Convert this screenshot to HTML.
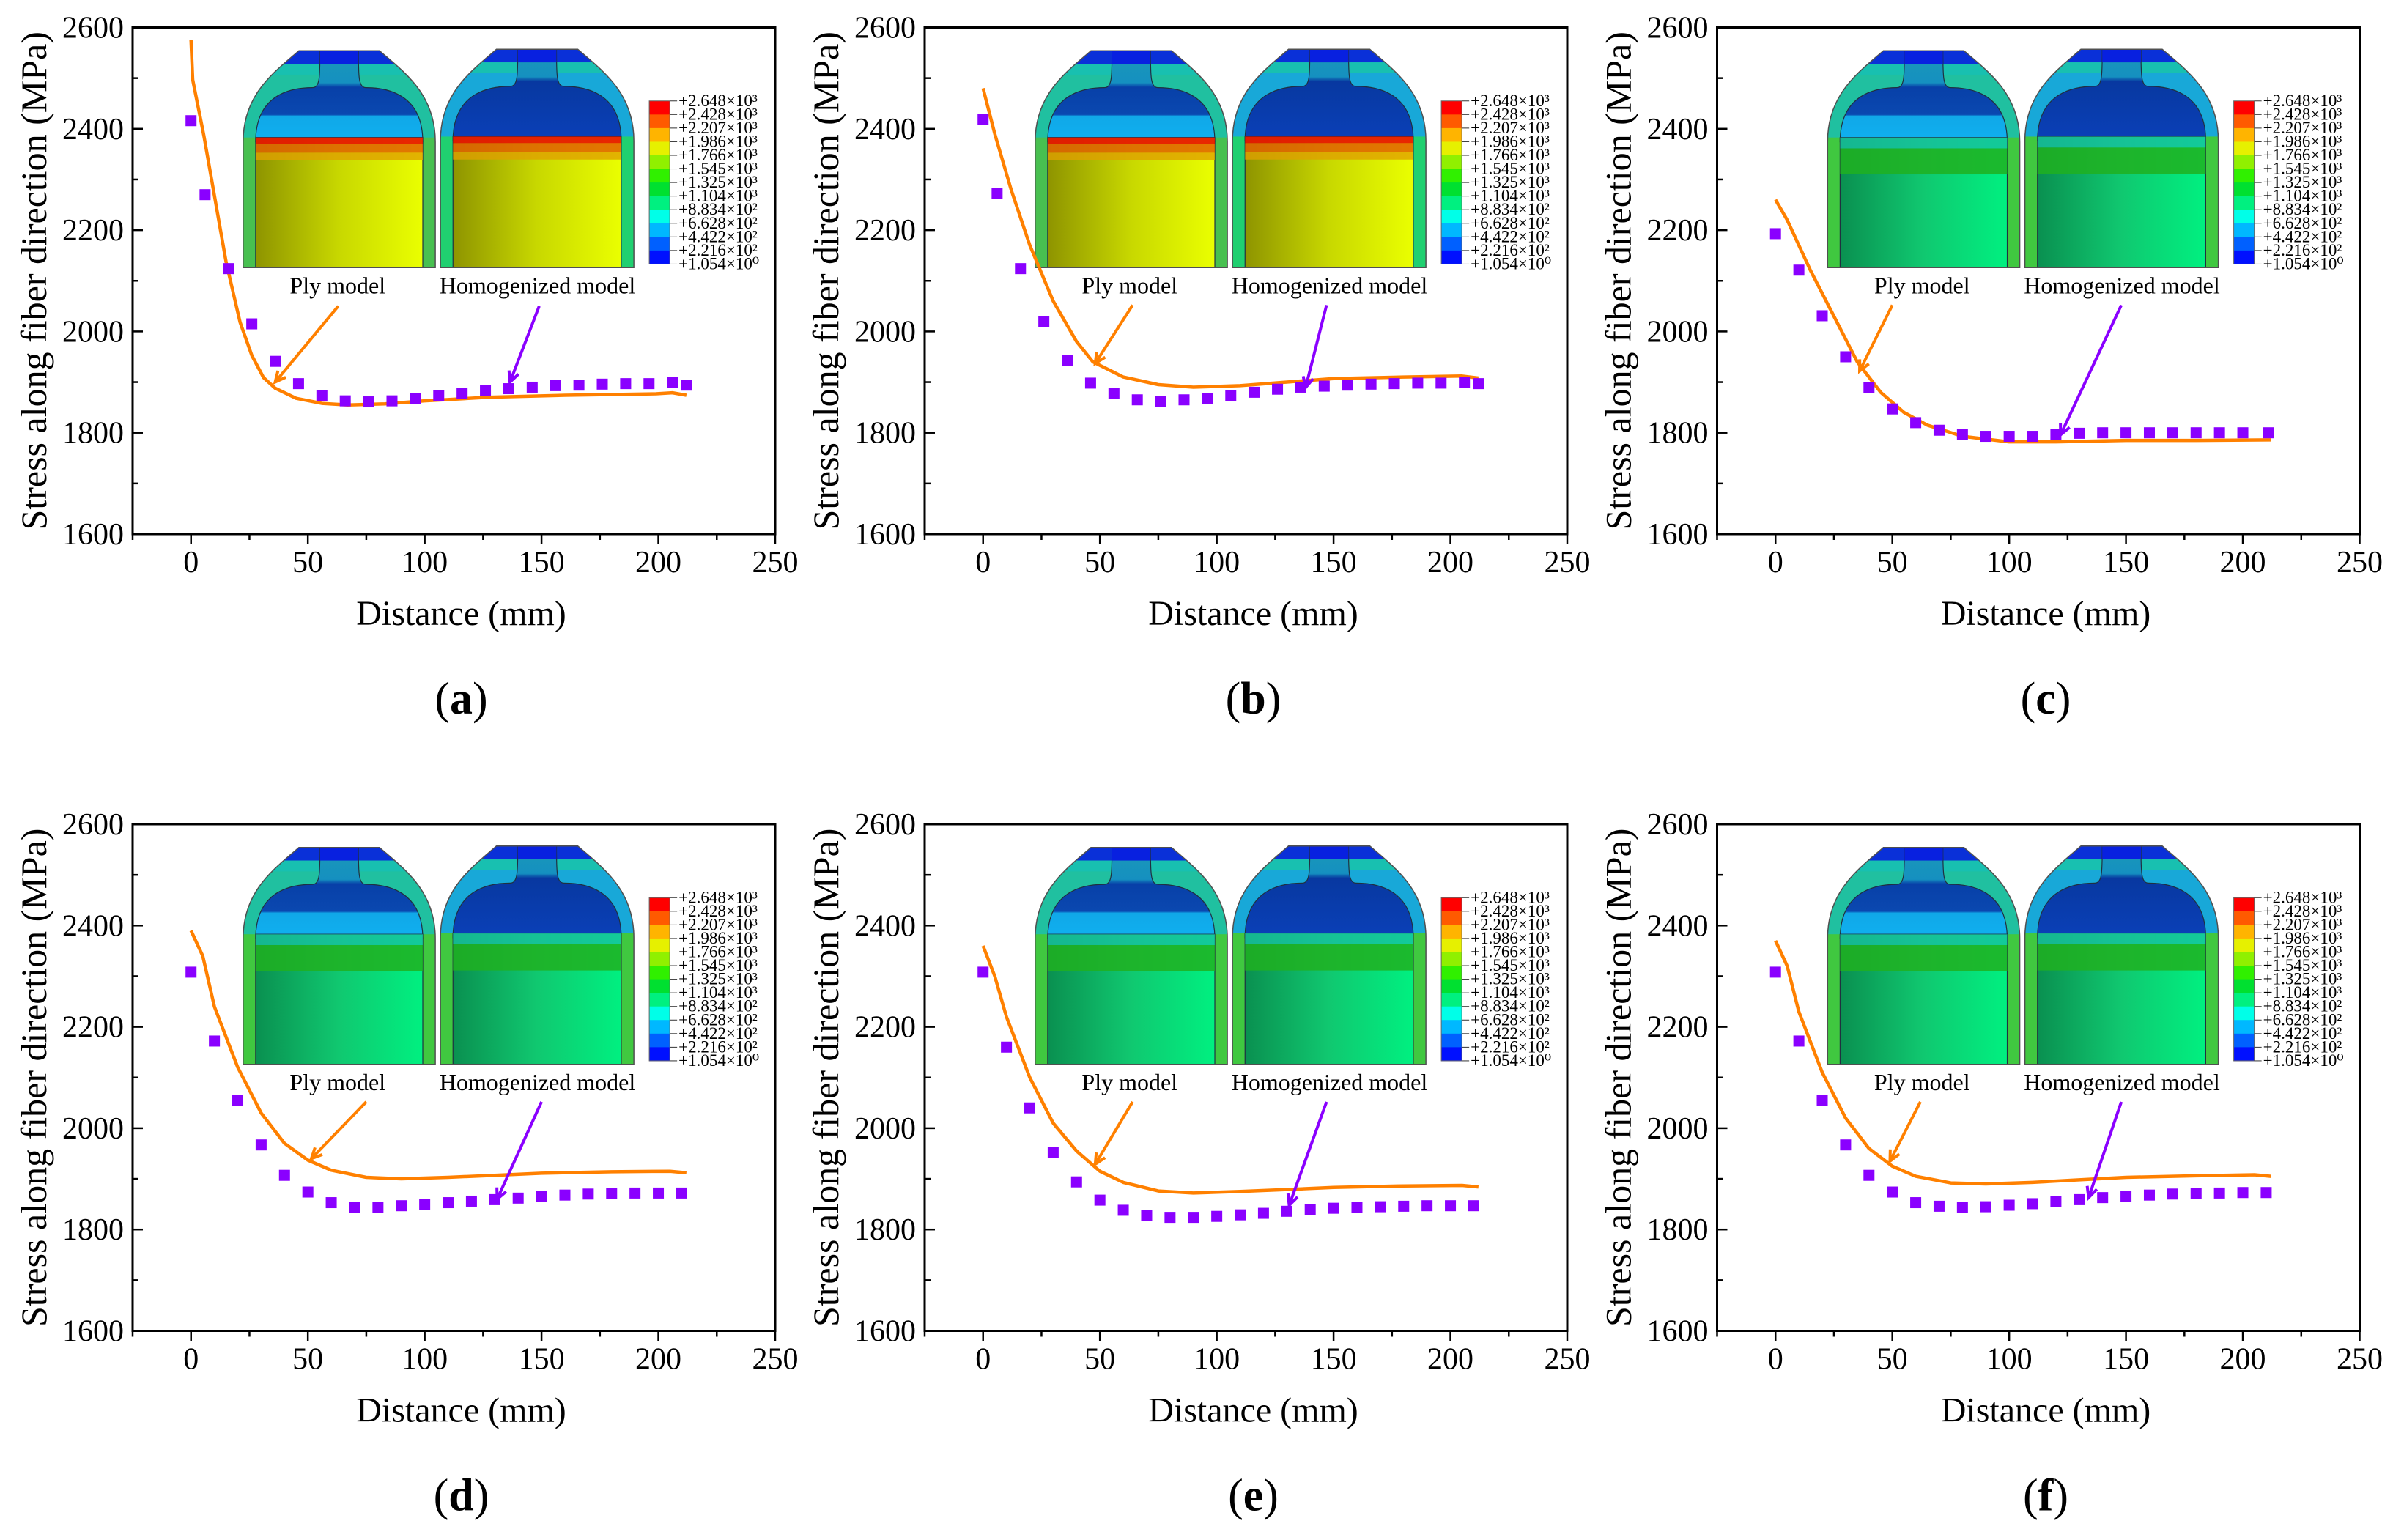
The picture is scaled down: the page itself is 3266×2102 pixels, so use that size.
<!DOCTYPE html>
<html><head><meta charset="utf-8">
<style>
html,body{margin:0;padding:0;background:#fff;}
svg, svg text{font-family:"Liberation Serif","Times New Roman","DejaVu Serif",serif;}
</style></head>
<body>
<svg id="fig" width="3266" height="2097" viewBox="0 0 3266 2097" xmlns="http://www.w3.org/2000/svg" font-family="Liberation Serif, serif">
<defs>
<linearGradient id="bodyYellow" x1="0" x2="1" y1="0" y2="0"><stop offset="0" stop-color="#8e9400"/><stop offset="0.5" stop-color="#c8d800"/><stop offset="1" stop-color="#eaff00"/></linearGradient>
<linearGradient id="bodyGreen" x1="0" x2="1" y1="0" y2="0"><stop offset="0" stop-color="#0a9050"/><stop offset="0.5" stop-color="#10c870"/><stop offset="1" stop-color="#00f080"/></linearGradient>
<linearGradient id="domePly" x1="0" x2="0" y1="0" y2="1"><stop offset="0" stop-color="#1a98b8"/><stop offset="0.35" stop-color="#1590c0"/><stop offset="0.4" stop-color="#0840a8"/><stop offset="0.7" stop-color="#0a48b0"/><stop offset="0.72" stop-color="#10a8e8"/><stop offset="1" stop-color="#10b0f0"/></linearGradient>
<linearGradient id="domeHom" x1="0" x2="0" y1="0" y2="1"><stop offset="0" stop-color="#1a98b8"/><stop offset="0.3" stop-color="#1590c0"/><stop offset="0.35" stop-color="#0838a0"/><stop offset="1" stop-color="#0a40b8"/></linearGradient>
</defs>
</svg>
<script>
// ---------------- data ----------------
const xTicks = [0, 50, 100, 150, 200, 250];
const yTicks = [1600, 1800, 2000, 2200, 2400, 2600];
const cbLabels = ["+2.648×10³","+2.428×10³","+2.207×10³","+1.986×10³","+1.766×10³","+1.545×10³","+1.325×10³","+1.104×10³","+8.834×10²","+6.628×10²","+4.422×10²","+2.216×10²","+1.054×10⁰"];
const cbColors = ["#ff0000","#ff5a00","#ffb400","#e6f000","#90f000","#30f000","#00e030","#00f080","#00ffe8","#00b8ff","#0060ff","#0010ff"];

const sqXA = [0,6,16,26,36,46,56,66,76,86,96,106,116,126,136,146,156,166,176,186,196,206,212];
const sqYA = [2416,2270,2124,2015,1941,1897,1873,1863,1861,1863,1867,1873,1878,1883,1887,1890,1893,1894,1896,1897,1897,1899,1894];
const lnXA = [0,0.7,5.5,15,21,26,31,36,45,56,67,83,100,127,160,199,206,212];
const lnYA = [2575,2497,2386,2137,2018,1953,1909,1888,1868,1858,1855,1857,1863,1870,1874,1877,1879,1874];

const sqXB = [0,6,16,26,36,46,56,66,76,86,96,106,116,126,136,146,156,166,176,186,196,206,212];
const sqYB = [2419,2272,2124,2019,1943,1898,1877,1865,1862,1865,1868,1874,1880,1886,1890,1892,1894,1896,1897,1898,1898,1900,1897];
const lnXB = [0,5,12,20,30,40,47,60,75,90,110,130,150,180,205,212];
const lnYB = [2480,2390,2280,2170,2060,1980,1940,1910,1895,1890,1893,1900,1907,1910,1912,1908];

const sqXC = [0,10,20,30,40,50,60,70,80,90,100,110,120,130,140,150,160,170,180,190,200,211];
const sqYC = [2193,2121,2031,1950,1889,1847,1820,1805,1796,1793,1793,1793,1796,1799,1800,1800,1800,1800,1800,1800,1800,1800];
const lnXC = [0,5,15,25,35,45,55,65,80,100,120,150,180,212];
const lnYC = [2260,2220,2120,2030,1940,1880,1840,1815,1793,1782,1782,1785,1785,1786];

const sqXD = [0,10,20,30,40,50,60,70,80,90,100,110,120,130,140,150,160,170,180,190,200,210];
const sqYD = [2308,2172,2055,1967,1907,1874,1853,1844,1844,1847,1850,1853,1856,1859,1862,1865,1868,1870,1871,1872,1872,1872];
const lnXD = [0,5,10,20,30,40,50,60,75,90,110,130,150,180,205,212];
const lnYD = [2390,2340,2240,2120,2030,1970,1937,1917,1903,1900,1903,1907,1911,1914,1915,1912];

const sqXE = [0,10,20,30,40,50,60,70,80,90,100,110,120,130,140,150,160,170,180,190,200,210];
const sqYE = [2308,2160,2040,1952,1894,1858,1838,1828,1824,1824,1826,1829,1832,1836,1840,1842,1844,1845,1846,1847,1847,1847];
const lnXE = [0,5,10,20,30,40,50,60,75,90,110,130,150,180,205,212];
const lnYE = [2360,2300,2220,2100,2010,1955,1915,1893,1876,1872,1875,1879,1883,1886,1887,1884];

const sqXF = [0,10,20,30,40,50,60,70,80,90,100,110,120,130,140,150,160,170,180,190,200,210];
const sqYF = [2308,2172,2055,1967,1907,1874,1853,1846,1844,1845,1848,1851,1855,1859,1863,1866,1868,1870,1871,1872,1873,1873];
const lnXF = [0,5,10,20,30,40,50,60,75,90,110,130,150,180,205,212];
const lnYF = [2370,2320,2230,2110,2020,1960,1925,1905,1892,1890,1893,1898,1903,1906,1908,1905];

const arrPlyA = [63,2050,36,1900], arrHomA = [149,2050,136.5,1900];
const arrPlyB = [64,2052,48,1937], arrHomB = [147,2052,138,1889];
const arrPlyC = [50,2052,36,1922], arrHomC = [148,2052,122,1796];
const arrPlyD = [75,2052,51.5,1940], arrHomD = [150,2052,131,1860];
const arrPlyE = [64,2052,48,1929], arrHomE = [147,2052,131,1848];
const arrPlyF = [62,2052,49,1935], arrHomF = [148,2052,134,1863];

const panels = [
 {id:"a", L:181, T:37.5, sx:sqXA, sy:sqYA, lx:lnXA, ly:lnYA, ap:arrPlyA, ah:arrHomA, green:false},
 {id:"b", L:1262, T:37.5, sx:sqXB, sy:sqYB, lx:lnXB, ly:lnYB, ap:arrPlyB, ah:arrHomB, green:false},
 {id:"c", L:2343.5, T:37.5, sx:sqXC, sy:sqYC, lx:lnXC, ly:lnYC, ap:arrPlyC, ah:arrHomC, green:true},
 {id:"d", L:181, T:1125, sx:sqXD, sy:sqYD, lx:lnXD, ly:lnYD, ap:arrPlyD, ah:arrHomD, green:true},
 {id:"e", L:1262, T:1125, sx:sqXE, sy:sqYE, lx:lnXE, ly:lnYE, ap:arrPlyE, ah:arrHomE, green:true},
 {id:"f", L:2343.5, T:1125, sx:sqXF, sy:sqYF, lx:lnXF, ly:lnYF, ap:arrPlyF, ah:arrHomF, green:true}
];
const W = 877, H = 691.5;
const NS = "http://www.w3.org/2000/svg";
const FONT = '"Liberation Serif", "Times New Roman", serif';
const svg = document.getElementById("fig");

function mk(tag, attrs, parent){
  const e = document.createElementNS(NS, tag);
  for (const k in attrs) e.setAttribute(k, attrs[k]);
  if (tag === "text") e.setAttribute("font-family", FONT);
  parent.appendChild(e);
  return e;
}

let clipId = 0;
function drawBottle(g, X, Y, w, h, green, homog){
  const bg = mk("g", {}, g);
  
  
  const P = (u,v)=> (X+u*w).toFixed(1)+","+(Y+v*h).toFixed(1);
  const outer = "M"+P(0,1)+" L"+P(0,0.42)+" C"+P(0,0.2)+" "+P(0.16,0.1)+" "+P(0.29,0)+" L"+P(0.71,0)+" C"+P(0.84,0.1)+" "+P(1,0.2)+" "+P(1,0.42)+" L"+P(1,1)+" Z";
  const cid = "clip"+(clipId++);
  const cp = mk("clipPath", {id:cid}, bg);
  mk("path", {d:outer}, cp);
  const cg = mk("g", {"clip-path":"url(#"+cid+")"}, bg);
  mk("rect", {x:X, y:Y, width:w, height:h, fill: homog ? "#18a8d8" : "#20c0a0"}, cg);
  mk("rect", {x:X, y:Y, width:w, height:h*0.06, fill:"#0a30d8"}, cg);
  mk("rect", {x:X, y:Y+h*0.06, width:w, height:h*0.05, fill:"#18c0b0"}, cg);
  const side = green ? "#40c840" : (homog ? "#20d070" : "#48c050");
  mk("rect", {x:X, y:Y+h*0.4, width:w*0.07, height:h*0.6, fill:side}, cg);
  mk("rect", {x:X+w*0.93, y:Y+h*0.4, width:w*0.07, height:h*0.6, fill:side}, cg);
  const dome = "M"+P(0.065,0.42)+" C"+P(0.065,0.2)+" "+P(0.25,0.17)+" "+P(0.36,0.17)+" C"+P(0.4,0.17)+" "+P(0.4,0.12)+" "+P(0.4,0.0)+" L"+P(0.6,0)+" C"+P(0.6,0.12)+" "+P(0.6,0.17)+" "+P(0.64,0.17)+" C"+P(0.75,0.17)+" "+P(0.935,0.2)+" "+P(0.935,0.42)+" Z";
  mk("path", {d:dome, fill: homog ? "url(#domeHom)" : "url(#domePly)", stroke:"#203040", "stroke-width":1.2}, cg);
  mk("rect", {x:X+w*0.4, y:Y, width:w*0.2, height:h*0.06, fill:"#0820e0"}, cg);
  mk("rect", {x:X+w*0.065, y:Y+h*0.4, width:w*0.87, height:h*0.6, fill: green ? "url(#bodyGreen)" : "url(#bodyYellow)", stroke:"#203040", "stroke-width":1.2}, cg);
  if (!green){
    mk("rect", {x:X+w*0.065, y:Y+h*0.4, width:w*0.87, height:h*0.03, fill:"#e81000", opacity:0.9}, cg);
    mk("rect", {x:X+w*0.065, y:Y+h*0.43, width:w*0.87, height:h*0.04, fill:"#e06000", opacity:0.85}, cg);
    mk("rect", {x:X+w*0.065, y:Y+h*0.47, width:w*0.87, height:h*0.035, fill:"#e0a000", opacity:0.8}, cg);
  } else {
    mk("rect", {x:X+w*0.065, y:Y+h*0.4, width:w*0.87, height:h*0.05, fill:"#18c0a0", opacity:0.8}, cg);
    mk("rect", {x:X+w*0.065, y:Y+h*0.45, width:w*0.87, height:h*0.12, fill:"#20b020", opacity:0.85}, cg);
  }
  mk("path", {d:outer, fill:"none", stroke:"#505050", "stroke-width":1.5}, bg);
}

function drawArrow(g, x1,y1,x2,y2,color,name){
  const a = mk("g", {}, g);
  
  
  mk("line", {x1:x1,y1:y1,x2:x2,y2:y2,stroke:color,"stroke-width":4}, a);
  const ang = Math.atan2(y2-y1,x2-x1), L=16, s=0.45;
  const p1 = [x2-L*Math.cos(ang-s), y2-L*Math.sin(ang-s)];
  const p2 = [x2-L*Math.cos(ang+s), y2-L*Math.sin(ang+s)];
  mk("path", {d:"M"+p1.join(",")+" L"+x2+","+y2+" L"+p2.join(","), fill:"none", stroke:color, "stroke-width":4}, a);
}

panels.forEach(p=>{
  const g = mk("g", {}, svg);
  
  
  const X = v => p.L + (v+25)/275*W;
  const Y = v => p.T + (2600-v)/1000*H;
  const B = p.T + H;

  const fr = mk("rect", {x:p.L, y:p.T, width:W, height:H, fill:"none", stroke:"#000", "stroke-width":3}, g);
  
  

  for (let v=1600; v<=2600; v+=100){
    const len = (v%200===0)?14:8;
    mk("line", {x1:p.L, y1:Y(v), x2:p.L+len, y2:Y(v), stroke:"#000","stroke-width":2.5}, g);
  }
  yTicks.forEach(v=>{
    const t = mk("text", {x:p.L-12, y:Y(v)+14, "text-anchor":"end", "font-size":42}, g);
    t.textContent = v;
    
    
  });
  for (let v=-25; v<=250; v+=25){
    const len = (v%50===0)?14:8;
    mk("line", {x1:X(v), y1:B, x2:X(v), y2:B+len, stroke:"#000","stroke-width":2.5}, g);
  }
  xTicks.forEach(v=>{
    const t = mk("text", {x:X(v), y:B+52, "text-anchor":"middle", "font-size":42}, g);
    t.textContent = v;
    
    
  });
  const xt = mk("text", {x:p.L+W/2+10, y:B+124, "text-anchor":"middle", "font-size":48}, g);
  xt.textContent = "Distance (mm)";
  
  
  const cx = p.L-118, cy = p.T+H/2;
  const yt = mk("text", {x:cx, y:cy, "text-anchor":"middle", "font-size":50, transform:"rotate(-90 "+cx+" "+cy+")"}, g);
  yt.textContent = "Stress along fiber direction (MPa)";
  
  
  const pl = mk("text", {x:p.L+W/2+10, y:B+245, "text-anchor":"middle", "font-size":62}, g);
  pl.innerHTML = '(<tspan font-weight="bold">'+p.id+'</tspan>)';
  
  

  const ins = mk("g", {}, g);
  
  
  drawBottle(ins, p.L+0.172*W, p.T+0.046*H, 0.299*W, 0.428*H, p.green, false);
  drawBottle(ins, p.L+0.479*W, p.T+0.043*H, 0.301*W, 0.431*H, p.green, true);
  const cb = mk("g", {}, ins);
  
  
  const cbx = p.L+0.804*W, cby = p.T+0.145*H, cbw = 0.032*W, cbh = (0.467-0.145)*H;
  const step = cbh/cbColors.length;
  cbColors.forEach((c,i)=>{
    mk("rect", {x:cbx, y:cby+i*step, width:cbw, height:step+0.5, fill:c}, cb);
  });
  mk("rect", {x:cbx, y:cby, width:cbw, height:cbh, fill:"none", stroke:"#666", "stroke-width":1}, cb);
  cbLabels.forEach((s,i)=>{
    mk("line", {x1:cbx+cbw, y1:cby+i*step, x2:cbx+cbw+10, y2:cby+i*step, stroke:"#333","stroke-width":1}, cb);
    const t = mk("text", {x:cbx+cbw+12, y:cby+i*step+7, "font-size":23}, cb);
    t.textContent = s;
    
    
  });
  const t1 = mk("text", {x:p.L+0.319*W, y:p.T+0.525*H, "text-anchor":"middle", "font-size":32}, ins);
  t1.textContent = "Ply model";
  
  
  const t2 = mk("text", {x:p.L+0.63*W, y:p.T+0.525*H, "text-anchor":"middle", "font-size":32}, ins);
  t2.textContent = "Homogenized model";
  
  

  let d = "";
  p.lx.forEach((v,i)=>{ d += (i?"L":"M")+X(v).toFixed(1)+","+Y(p.ly[i]).toFixed(1)+" "; });
  const ln = mk("path", {d:d, fill:"none", stroke:"#ff8000", "stroke-width":4.5, "stroke-linejoin":"round"}, g);
  
  

  const sg = mk("g", {}, g);
  
  
  p.sx.forEach((v,i)=>{
    const r = mk("rect", {x:X(v)-7.5, y:Y(p.sy[i])-7.5, width:15, height:15, fill:"#8a00ff"}, sg);
    
    
  });

  drawArrow(g, X(p.ap[0]), Y(p.ap[1]), X(p.ap[2]), Y(p.ap[3]), "#ff8000", "ply-model-arrow");
  drawArrow(g, X(p.ah[0]), Y(p.ah[1]), X(p.ah[2]), Y(p.ah[3]), "#8a00ff", "homogenized-model-arrow");
});
</script>
</body></html>
